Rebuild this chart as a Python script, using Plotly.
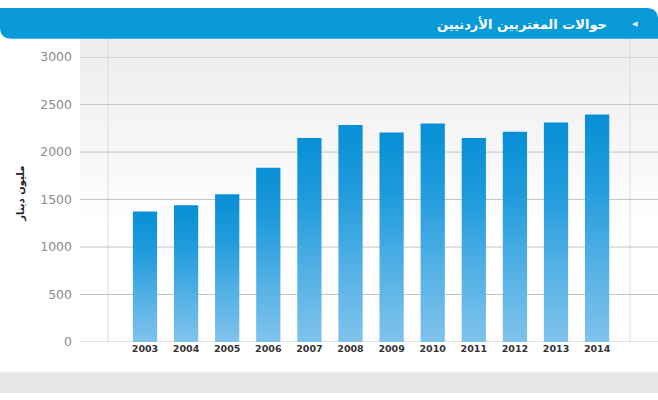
import plotly.graph_objects as go

W, H = 658, 400

years = ["2003", "2004", "2005", "2006", "2007", "2008", "2009", "2010", "2011", "2012", "2013", "2014"]
values = [1375, 1440, 1555, 1835, 2148, 2285, 2206, 2302, 2148, 2215, 2312, 2395]
y_ticks = [0, 500, 1000, 1500, 2000, 2500, 3000]

title_text = "حوالات المغتربين الأردنيين"
y_title = "مليون دينار"

def px(x):
    return x / W

def py(y):
    return 1 - y / H

fig = go.Figure()

bar_w = 0.59
grad = [[0, "#80c3ec"], [0.35, "#52b0e5"], [0.7, "#1f9bdc"], [1, "#078fd5"]]
for i, v in enumerate(values):
    fig.add_trace(go.Scatter(
        x=[i - bar_w / 2, i + bar_w / 2, i + bar_w / 2, i - bar_w / 2, i - bar_w / 2],
        y=[0, 0, v, v, 0],
        mode="lines", line=dict(width=0), fill="toself",
        fillgradient=dict(type="vertical", colorscale=grad),
        hoverinfo="text", text=f"{years[i]}: {v}", showlegend=False,
    ))

shapes = []
# top gray gradient background
n = 18
top, bot = 32, 230
for k in range(n):
    y0 = top + (bot - top) * k / n
    y1 = top + (bot - top) * (k + 1) / n
    c = int(237 + (255 - 237) * k / (n - 1))
    shapes.append(dict(type="rect", xref="paper", yref="paper", x0=px(80), x1=1,
                       y0=py(y1 + 0.5), y1=py(y0), fillcolor=f"rgb({c},{c},{c})",
                       line=dict(width=0), layer="below"))
# vertical frame lines
for xv in (108, 630):
    shapes.append(dict(type="line", xref="paper", yref="paper", x0=px(xv), x1=px(xv),
                       y0=py(348), y1=py(32), line=dict(color="#dcdcdc", width=1), layer="below"))
# horizontal gridlines
for t in y_ticks:
    shapes.append(dict(type="line", xref="paper", yref="y", x0=px(80), x1=1, y0=t, y1=t,
                       line=dict(color="#c4c4c4", width=1), layer="below"))
# bottom band
shapes.append(dict(type="rect", xref="paper", yref="paper", x0=0, x1=1, y0=0, y1=py(378),
                   fillcolor="#e6e7e8", line=dict(width=0), layer="below"))
# header bar with rounded corners
r = 12
hb = 32
path = (f"M 0,1 L {px(W - r)},1 Q 1,1 1,{py(r)} L 1,{py(hb)} "
        f"L {px(r)},{py(hb)} Q 0,{py(hb)} 0,{py(hb - r)} Z")
shapes.append(dict(type="path", xref="paper", yref="paper", path=path,
                   fillcolor="#0a9ad8", line=dict(width=0), layer="above"))

annotations = [
    dict(text=title_text, xref="paper", yref="paper", x=px(609), y=py(17),
         xanchor="right", yanchor="middle", showarrow=False,
         font=dict(family="DejaVu Sans", size=13, color="white", weight="bold")),
    dict(text="◀", xref="paper", yref="paper", x=px(635), y=py(17),
         xanchor="center", yanchor="middle", showarrow=False,
         font=dict(family="DejaVu Sans", size=7, color="white")),
    dict(text=y_title, xref="paper", yref="paper", x=px(21), y=py(193),
         xanchor="center", yanchor="middle", textangle=-90, showarrow=False,
         font=dict(family="DejaVu Sans", size=10, color="#222", weight="bold")),
]

fig.update_layout(
    width=W, height=H,
    margin=dict(l=0, r=0, t=0, b=0),
    paper_bgcolor="white", plot_bgcolor="rgba(0,0,0,0)",
    showlegend=False,
    xaxis=dict(domain=[px(108), px(630)], range=[-0.9, 11.8],
               tickvals=list(range(len(years))), ticktext=years,
               showgrid=False, zeroline=False, showline=False, ticks="",
               tickfont=dict(family="DejaVu Sans", size=9.5, color="#333", weight="bold"),
               fixedrange=True),
    yaxis=dict(domain=[py(347), py(51)], range=[0, 3000],
               tickvals=y_ticks, ticktext=[str(t) for t in y_ticks],
               showgrid=False, zeroline=False, showline=False, ticks="",
               ticklabelstandoff=35,
               tickfont=dict(family="DejaVu Sans", size=12.5, color="#8c8c8c"),
               fixedrange=True),
    shapes=shapes,
    annotations=annotations,
)

fig.write_html("out.html")
